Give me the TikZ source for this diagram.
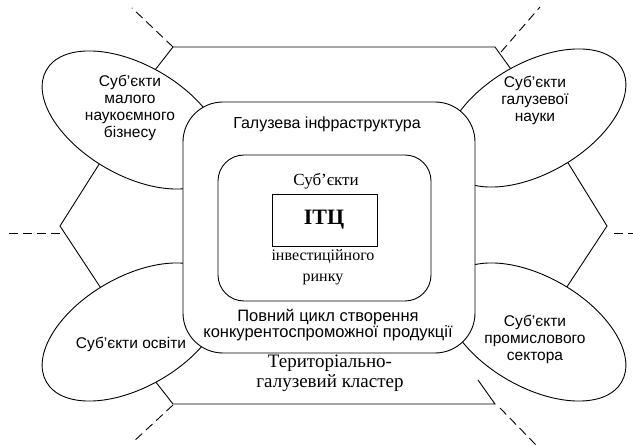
\documentclass[tikz,border=0pt]{standalone}
\usepackage{fontspec}
\setmainfont{Liberation Serif}
\setsansfont{Liberation Sans}
\begin{document}
\begin{tikzpicture}[x=1pt,y=-1pt,
  ln/.style={line width=0.9pt,black},
  dsh/.style={line width=0.9pt,black,dash pattern=on 9pt off 5pt},
  ovl/.style={line width=0.9pt,draw=black,fill=white},
  rbox/.style={line width=0.9pt,draw=black,fill=white},
  stxt/.style={font=\fontsize{15.5}{17}\selectfont\sffamily,align=center,inner sep=0pt},
  rtxt/.style={font=\fontsize{16}{21}\selectfont\rmfamily,align=center,inner sep=0pt}]
\useasboundingbox (0,0) rectangle (633,446);
% outer cluster polygon
\coordinate (tl) at (173,47);
\coordinate (tr) at (495,47);
\coordinate (bl) at (173,404);
\coordinate (br) at (495,404);
\coordinate (lv) at (60,226);
\coordinate (rv) at (607,226);
\draw[ln] (155,70) -- (tl) -- (tr) -- (513,72);
\draw[ln] (478,380) -- (br) -- (bl) -- (155,381);
\draw[ln] (110,147) -- (lv) -- (112,305);
\draw[ln] (557,145) -- (rv) -- (555,305);
% dashed ends
\coordinate (dtl) at (132,8);
\coordinate (dtr) at (540,7);
\coordinate (dbl) at (132,443);
\coordinate (dbr) at (537,446);
\coordinate (dl) at (6,233);
\coordinate (dr) at (633,233);
\coordinate (tla) at (173,47);
\coordinate (tra) at (501,52);
\coordinate (bla) at (173,405);
\coordinate (bra) at (500,408);
\coordinate (la) at (60,233);
\coordinate (ra) at (614,233);
\draw[dsh] (tla) -- (dtl);
\draw[dsh] (tra) -- (dtr);
\draw[dsh] (bla) -- (dbl);
\draw[dsh] (bra) -- (dbr);
\draw[dsh] (la) -- (dl);
\draw[dsh] (ra) -- (dr);
% ellipses
\draw[ovl,rotate around={-30:(133,120)}] (133,120) ellipse (100 and 55);
\draw[ovl,rotate around={30:(535,118)}] (535,118) ellipse (100 and 55);
\draw[ovl,rotate around={30:(133,332)}] (133,332) ellipse (100 and 55);
\draw[ovl,rotate around={-30:(535,332)}] (535,332) ellipse (100 and 55);
\node[stxt] (e1) at (130,108) {Суб’єкти\\малого\\наукоємного\\бізнесу};
\node[stxt] (e2) at (535,100) {Суб’єкти\\галузевої\\науки};
\node[stxt] (e3) at (131,344) {Суб’єкти освіти};
\node[stxt] (e4) at (535,339) {Суб’єкти\\промислового\\сектора};
% rounded boxes
\draw[rbox,rounded corners=40pt] (183,102) rectangle (475,353);
\draw[rbox,rounded corners=26pt] (218,155) rectangle (431,301);
\draw[line width=0.9pt] (272,194) rectangle (377,246);
\node[stxt,font=\fontsize{16}{17}\selectfont\sffamily] (gi) at (327,124) {Галузева інфраструктура};
\node[rtxt,font=\fontsize{17}{21}\selectfont\rmfamily] (sb) at (326,181) {Суб’єкти};
\node[font=\fontsize{22}{24}\selectfont\rmfamily\bfseries,inner sep=0pt] (itc) at (324,220) {ІТЦ};
\node[rtxt] (ir) at (323,267) {інвестиційного\\ринку};
\node[stxt,font=\fontsize{16.5}{16.5}\selectfont\sffamily] (pc) at (328,325) {Повний цикл створення\\конкурентоспроможної продукції};
\node[rtxt,font=\fontsize{19}{20}\selectfont\rmfamily] (tk) at (330,373) {Територіально-\\галузевий кластер};
\end{tikzpicture}
\end{document}
